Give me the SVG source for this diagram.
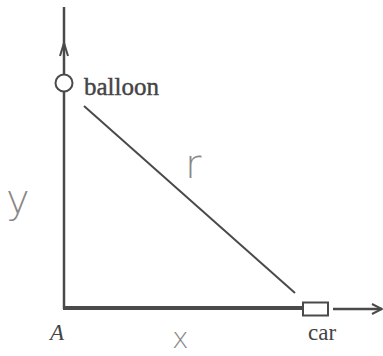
<svg xmlns="http://www.w3.org/2000/svg" width="383" height="356" viewBox="0 0 383 356">
<style>
.ax{stroke:#4a4a4a;fill:none;stroke-linecap:butt}
.lbl{font-family:"Liberation Serif",serif;fill:#444}
.hand{font-family:"DejaVu Sans","Liberation Sans",sans-serif;fill:#888;font-weight:300}
</style>
<rect width="383" height="356" fill="#fff"/>
<g id="connectors">
<line class="ax" x1="64" y1="7" x2="64" y2="309" stroke-width="2.5"/>
<path class="ax" d="M60,56 L64,43 L68,56" stroke-width="2"/>
<line class="ax" x1="63" y1="308" x2="302" y2="308" stroke-width="4"/>
<line class="ax" x1="333" y1="309" x2="382" y2="309" stroke-width="2.5"/>
<path class="ax" d="M372,304 L382,309 L372,314" stroke-width="2"/>
<line class="ax" x1="84" y1="106" x2="295" y2="293" stroke-width="2"/>
</g>
<g id="balloon">
<circle cx="64" cy="83" r="8.5" fill="#fff" stroke="#4a4a4a" stroke-width="2"/>
<text class="lbl" x="84" y="95" font-size="25" stroke="#444" stroke-width="0.4">balloon</text>
</g>
<g id="car">
<rect x="303" y="302.5" width="25" height="13" fill="#fff" stroke="#4a4a4a" stroke-width="2"/>
<text class="lbl" x="308" y="340" font-size="23">car</text>
</g>
<g id="A">
<text class="lbl" x="50" y="340" font-size="23" font-style="italic">A</text>
</g>
<g id="labels">
<text class="hand" x="185" y="178" font-size="40">r</text>
<text class="hand" x="6" y="213" font-size="40">y</text>
<text class="hand" x="172" y="348" font-size="28">x</text>
</g>
</svg>
